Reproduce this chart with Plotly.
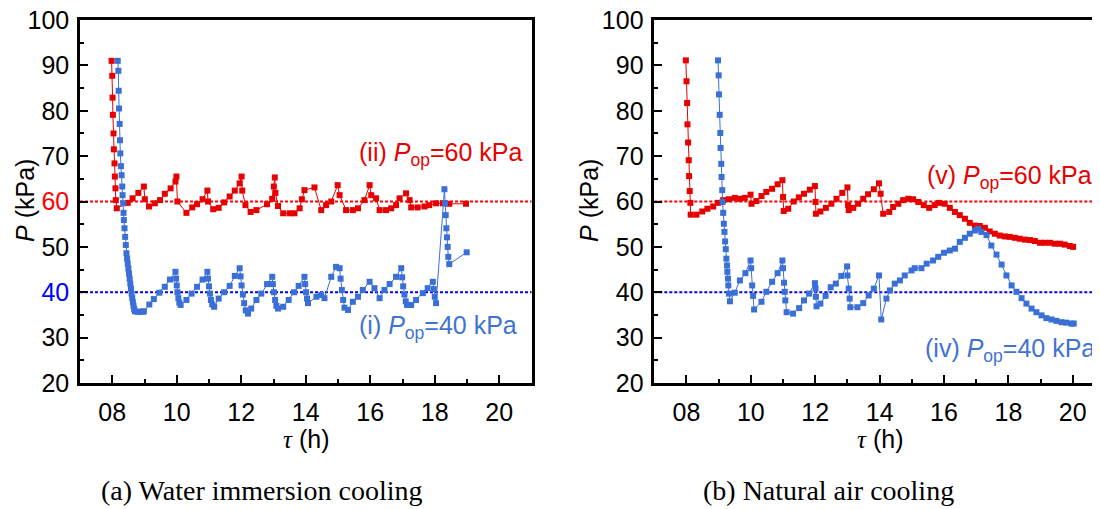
import plotly.graph_objects as go

# ---------------- data ----------------
# (a) Water immersion cooling, (ii) P_op = 60 kPa
a_red_t = [7.98, 8.00, 8.01, 8.02, 8.04, 8.05, 8.07, 8.08, 8.10, 8.11, 8.14, 8.48, 8.63, 8.81, 8.98,
           9.01, 9.14, 9.32, 9.48, 9.63, 9.81, 9.96, 9.99, 10.02, 10.30, 10.48, 10.63, 10.80, 10.95,
           10.97, 11.13, 11.30, 11.47, 11.64, 11.80, 11.95, 12.01, 12.03, 12.13, 12.29, 12.47, 12.80,
           12.96, 13.01, 13.04, 13.06, 13.14, 13.30, 13.50, 13.65, 13.81, 13.88, 13.96, 14.27, 14.48,
           14.63, 14.79, 14.99, 15.05, 15.25, 15.46, 15.62, 15.82, 15.98, 16.03, 16.18, 16.29, 16.49,
           16.65, 16.80, 16.91, 17.11, 17.22, 17.27, 17.47, 17.68, 17.83, 18.04, 18.25, 18.45, 18.97]
a_red_p = [91.0, 87.7, 82.9, 79.1, 75.0, 71.5, 68.4, 65.5, 62.9, 60.3, 58.5, 59.7, 60.7, 61.9, 63.3,
           60.5, 58.9, 59.6, 60.3, 61.7, 62.9, 64.4, 65.5, 60.0, 57.5, 58.7, 59.4, 60.5, 62.4,
           60.0, 58.3, 58.6, 59.8, 61.1, 62.4, 64.0, 65.5, 62.4, 59.2, 57.7, 58.1, 59.4,
           60.6, 63.3, 65.3, 61.9, 59.0, 57.4, 57.4, 57.4, 58.5, 60.5, 62.5, 63.1, 58.1,
           59.2, 60.0, 63.6, 61.4, 58.1, 58.1, 58.5, 60.3, 63.6, 61.4, 60.7, 58.1, 58.1,
           58.5, 59.2, 60.7, 61.8, 60.3, 58.7, 58.7, 58.9, 59.2, 59.6, 59.6, 59.5, 59.5]

# (a) Water immersion cooling, (i) P_op = 40 kPa
a_blue_t = [8.17, 8.19, 8.20, 8.21, 8.23, 8.24, 8.25, 8.27, 8.29, 8.31, 8.32, 8.34, 8.35, 8.36, 8.38,
            8.40, 8.42, 8.44, 8.46, 8.48, 8.50, 8.52, 8.54, 8.56, 8.58, 8.60, 8.62, 8.64, 8.66, 8.68,
            8.70, 8.78, 8.86, 8.94, 8.98, 9.15, 9.29, 9.46, 9.63, 9.79, 9.96, 9.98, 10.00, 10.02,
            10.05, 10.08, 10.12, 10.30, 10.46, 10.63, 10.80, 10.95, 10.97, 11.00, 11.03, 11.06, 11.10,
            11.16, 11.30, 11.47, 11.64, 11.80, 11.95, 11.98, 12.01, 12.05, 12.09, 12.14, 12.21, 12.31,
            12.47, 12.62, 12.80, 12.96, 12.98, 13.01, 13.05, 13.09, 13.14, 13.30, 13.47, 13.64, 13.78,
            13.96, 13.98, 14.01, 14.04, 14.07, 14.33, 14.48, 14.58, 14.79, 14.94, 15.05, 15.08, 15.12,
            15.16, 15.20, 15.31, 15.46, 15.62, 15.77, 15.98, 16.13, 16.29, 16.44, 16.60, 16.80, 16.96,
            16.99, 17.02, 17.06, 17.10, 17.14, 17.27, 17.42, 17.63, 17.78, 17.94, 17.97, 18.00, 18.04,
            18.30, 18.32, 18.34, 18.36, 18.38, 18.40, 18.42, 18.45, 18.99]
a_blue_p = [91.0, 88.8, 84.4, 80.5, 77.1, 73.5, 70.6, 67.8, 65.8, 63.3, 61.4, 59.6, 57.5, 55.9, 54.1,
            52.2, 50.4, 48.6, 47.4, 46.3, 45.2, 44.1, 43.0, 41.9, 40.8, 39.7, 38.7, 37.8, 37.0, 36.3,
            35.8, 35.7, 35.7, 35.7, 35.8, 37.3, 38.5, 39.9, 41.2, 42.8, 44.5, 43.0, 41.5, 40.0,
            38.7, 37.7, 37.2, 38.3, 39.7, 41.2, 42.8, 44.5, 43.0, 41.3, 39.7, 38.3, 37.3,
            36.8, 38.6, 40.0, 41.4, 43.6, 45.3, 43.5, 41.5, 39.5, 37.6, 36.0, 35.3, 36.4,
            38.3, 39.7, 41.8, 43.4, 41.8, 40.0, 38.3, 37.0, 36.4, 36.8, 38.3, 40.0, 41.4,
            43.4, 41.8, 40.0, 38.6, 37.6, 39.0, 39.4, 38.7, 43.4, 45.6, 45.3, 43.0, 40.5,
            38.3, 36.6, 36.1, 37.9, 39.0, 40.5, 42.3, 40.9, 38.7, 40.5, 41.8, 43.4, 45.3,
            43.3, 41.3, 39.5, 38.0, 37.2, 37.2, 38.3, 39.8, 40.9, 42.3, 40.7, 39.0, 37.6,
            62.7, 59.6, 57.0, 54.1, 52.1, 50.0, 47.8, 46.2, 48.8]

# (b) Natural air cooling, (v) P_op = 60 kPa
b_red_t = [7.98, 8.00, 8.02, 8.03, 8.05, 8.07, 8.08, 8.10, 8.12, 8.13, 8.31, 8.49, 8.65, 8.83, 8.98,
           9.14, 9.32, 9.50, 9.66, 9.81, 9.99, 10.02, 10.17, 10.33, 10.48, 10.66, 10.83, 10.98, 11.00,
           11.02, 11.16, 11.33, 11.49, 11.65, 11.83, 11.99, 12.01, 12.02, 12.16, 12.33, 12.50, 12.66,
           12.84, 13.00, 13.02, 13.04, 13.18, 13.33, 13.49, 13.64, 13.82, 13.98, 14.03, 14.11, 14.30,
           14.42, 14.58, 14.73, 14.89, 15.04, 15.20, 15.37, 15.54, 15.71, 15.85, 16.02, 16.18, 16.34,
           16.49, 16.65, 16.80, 16.96, 17.11, 17.27, 17.42, 17.58, 17.73, 17.89, 18.04, 18.20, 18.35,
           18.51, 18.67, 18.82, 18.98, 19.13, 19.29, 19.44, 19.60, 19.75, 19.91, 20.01]
b_red_p = [91.1, 86.5, 81.7, 77.0, 73.0, 69.1, 65.6, 62.3, 59.7, 57.1, 57.1, 57.8, 58.4, 58.9, 59.7,
           60.3, 60.5, 60.8, 60.6, 60.8, 61.5, 59.5, 60.1, 61.2, 62.1, 62.8, 63.8, 64.7, 61.0,
           57.9, 58.4, 60.0, 60.9, 61.7, 62.6, 63.4, 59.9, 57.3, 57.8, 58.6, 59.5, 60.6,
           61.9, 63.1, 59.2, 58.1, 58.6, 59.5, 60.6, 61.6, 62.7, 64.0, 61.7, 57.3, 57.7,
           58.8, 59.5, 60.3, 60.6, 60.5, 59.9, 59.2, 58.6, 59.2, 59.7, 59.5, 58.6, 57.7,
           57.0, 56.2, 55.3, 54.7, 54.6, 54.2, 53.4, 52.9, 52.5, 52.3, 52.2, 52.0, 51.8,
           51.6, 51.5, 51.3, 50.9, 50.9, 50.9, 50.7, 50.7, 50.5, 50.2, 50.0]

# (b) Natural air cooling, (iv) P_op = 40 kPa
b_blue_t = [8.98, 9.00, 9.01, 9.03, 9.05, 9.06, 9.08, 9.09, 9.11, 9.12, 9.14, 9.16, 9.18, 9.20, 9.22,
            9.24, 9.26, 9.27, 9.29, 9.30, 9.32, 9.35, 9.50, 9.66, 9.83, 9.99, 10.01, 10.04, 10.07,
            10.10, 10.33, 10.48, 10.66, 10.83, 10.98, 11.00, 11.03, 11.05, 11.07, 11.11, 11.31, 11.50,
            11.65, 11.81, 11.99, 12.01, 12.02, 12.04, 12.16, 12.32, 12.48, 12.64, 12.81, 12.99, 13.00,
            13.04, 13.07, 13.09, 13.31, 13.49, 13.66, 13.82, 13.98, 14.05, 14.21, 14.32, 14.47, 14.63,
            14.78, 14.99, 15.09, 15.30, 15.46, 15.66, 15.82, 16.00, 16.18, 16.34, 16.49, 16.65, 16.80,
            16.96, 17.06, 17.16, 17.32, 17.47, 17.63, 17.79, 17.94, 18.10, 18.25, 18.41, 18.56, 18.72,
            18.87, 19.03, 19.18, 19.34, 19.49, 19.65, 19.80, 19.96, 20.03]
b_blue_p = [91.1, 87.8, 83.6, 79.1, 75.1, 71.8, 68.3, 65.4, 62.5, 59.9, 57.5, 55.1, 53.3, 51.2, 49.5,
            47.4, 45.9, 44.5, 43.0, 41.5, 39.7, 38.0, 39.9, 42.6, 44.2, 47.0, 45.3, 41.5, 39.2,
            36.2, 37.9, 40.1, 42.3, 44.2, 47.0, 45.3, 42.1, 40.1, 38.2, 35.6, 35.3, 36.5,
            38.2, 39.7, 42.0, 40.8, 39.0, 36.9, 37.5, 39.2, 41.1, 41.9, 43.6, 45.7, 43.7,
            40.8, 38.6, 36.7, 36.7, 37.6, 39.3, 40.8, 43.7, 34.0, 38.6, 40.4, 41.9, 42.6,
            43.7, 44.8, 45.3, 45.3, 46.3, 47.0, 47.8, 48.7, 49.2, 49.6, 51.1, 52.0, 52.9,
            53.6, 54.0, 53.3, 52.6, 50.3, 48.3, 46.1, 43.7, 41.5, 40.1, 38.7, 37.5, 36.4,
            35.6, 34.9, 34.3, 34.0, 33.7, 33.4, 33.3, 33.1, 33.1]

x_ticks = [8, 10, 12, 14, 16, 18, 20]
y_ticks = [20, 30, 40, 50, 60, 70, 80, 90, 100]
ref_levels = [60, 40]

RED = "#e60000"
BLUE = "#3a6fd6"
TXT_BLUE = "#3f73d2"
SANS = "Liberation Sans"
SERIF = "Liberation Serif"

# the page body keeps its default 8 px margin, so the figure is offset by 8 px
OFF = 8
PAGE_W, PAGE_H = 1100, 509
W, H = PAGE_W - OFF, PAGE_H - OFF

def px_x(p):
    return (p - OFF) / W

def px_y(p):
    return 1 - (p - OFF) / H

fig = go.Figure()

def add_series(t, p, color, xa, ya):
    fig.add_trace(go.Scatter(
        x=t, y=p, mode="lines+markers", xaxis=xa, yaxis=ya,
        line=dict(color=color, width=1),
        marker=dict(symbol="square", size=6, color=color, line=dict(width=0)),
        showlegend=False, hoverinfo="skip", cliponaxis=False))

add_series(a_red_t, a_red_p, RED, "x", "y")
add_series(a_blue_t, a_blue_p, BLUE, "x", "y")
add_series(b_red_t, b_red_p, RED, "x2", "y2")
add_series(b_blue_t, b_blue_p, BLUE, "x2", "y2")

# dotted reference levels
for xr, yr in (("x", "y"), ("x2", "y2")):
    for lvl, col in zip(ref_levels, ["#ff0000", "#0000ff"]):
        fig.add_shape(type="line", xref=f"{xr} domain", yref=yr, x0=0, x1=1, y0=lvl, y1=lvl,
                      line=dict(color=col, width=2, dash="3px,2px"), layer="below")

tickfont = dict(family=SANS, size=25, color="black")

def xaxis_cfg(domain, rng, anchor):
    return dict(domain=domain, range=rng, anchor=anchor, showline=True, linewidth=2.5,
                linecolor="black", mirror=True, ticks="inside", ticklen=8, tickwidth=2,
                tickcolor="black", tickvals=x_ticks, ticktext=[f"{v:02d}" for v in x_ticks],
                minor=dict(ticks="inside", ticklen=4, tickwidth=2, tickcolor="black",
                           tickmode="linear", tick0=7, dtick=2),
                showgrid=False, zeroline=False, tickfont=tickfont, ticklabelstandoff=5,
                ticklabeloverflow="allow", automargin=False)

def yaxis_cfg(anchor, colored, mirror):
    if colored:
        txt = []
        for v in y_ticks:
            if v == 40:
                txt.append('<span style="fill:#0000ff">40</span>')
            elif v == 60:
                txt.append('<span style="fill:#ff0000">60</span>')
            else:
                txt.append(str(v))
    else:
        txt = [str(v) for v in y_ticks]
    return dict(domain=[px_y(383), px_y(20)], range=[20, 100], anchor=anchor, showline=True,
                linewidth=2.5, linecolor="black", mirror=mirror, ticks="inside", ticklen=8,
                tickwidth=2, tickcolor="black", tickvals=y_ticks, ticktext=txt,
                minor=dict(ticks="inside", ticklen=4, tickwidth=2, tickcolor="black",
                           tickmode="linear", tick0=25, dtick=10),
                showgrid=False, zeroline=False, tickfont=tickfont, ticklabelstandoff=3,
                ticklabeloverflow="allow", automargin=False)

right_end = 7 + (PAGE_W - 654.3) / 32.19

fig.update_layout(
    width=W, height=H, margin=dict(l=0, r=0, t=0, b=0, pad=0, autoexpand=False),
    paper_bgcolor="white", plot_bgcolor="white",
    xaxis=xaxis_cfg([px_x(80), px_x(531.5)], [7, 21], "y"),
    yaxis=yaxis_cfg("x", True, True),
    xaxis2=xaxis_cfg([px_x(654.3), 1.0], [7, right_end], "y2"),
    yaxis2=yaxis_cfg("x2", False, False),
)

annos = []
def ann(text, x, y, size, color="black", family=SANS, xanchor="center", angle=0):
    annos.append(dict(text=text, x=px_x(x), y=px_y(y), xref="paper", yref="paper",
                      showarrow=False, xanchor=xanchor, yanchor="middle", textangle=angle,
                      font=dict(family=family, size=size, color=color)))

ann("<i>P</i> (kPa)", 25, 201, 25, angle=-90)
ann("<i>P</i> (kPa)", 589, 201, 25, angle=-90)
ann('<span style="font-family:Liberation Serif"><i>τ</i></span> (h)', 305.8, 439, 25)
ann('<span style="font-family:Liberation Serif"><i>τ</i></span> (h)', 880, 439, 25)
ann("(ii) <i>P</i><sub>op</sub>=60 kPa", 356.5, 154, 25, RED, xanchor="left")
ann("(i) <i>P</i><sub>op</sub>=40 kPa", 356.5, 326.5, 25, TXT_BLUE, xanchor="left")
ann("(v) <i>P</i><sub>op</sub>=60 kPa", 925, 176.5, 25, RED, xanchor="left")
ann("(iv) <i>P</i><sub>op</sub>=40 kPa", 1097, 349.5, 25, TXT_BLUE, xanchor="right")
ann("(a) Water immersion cooling", 261, 490, 28, family=SERIF)
ann("(b) Natural air cooling", 828, 490, 28, family=SERIF)
fig.update_layout(annotations=annos)

fig.write_html("out.html", config={"displayModeBar": False})
